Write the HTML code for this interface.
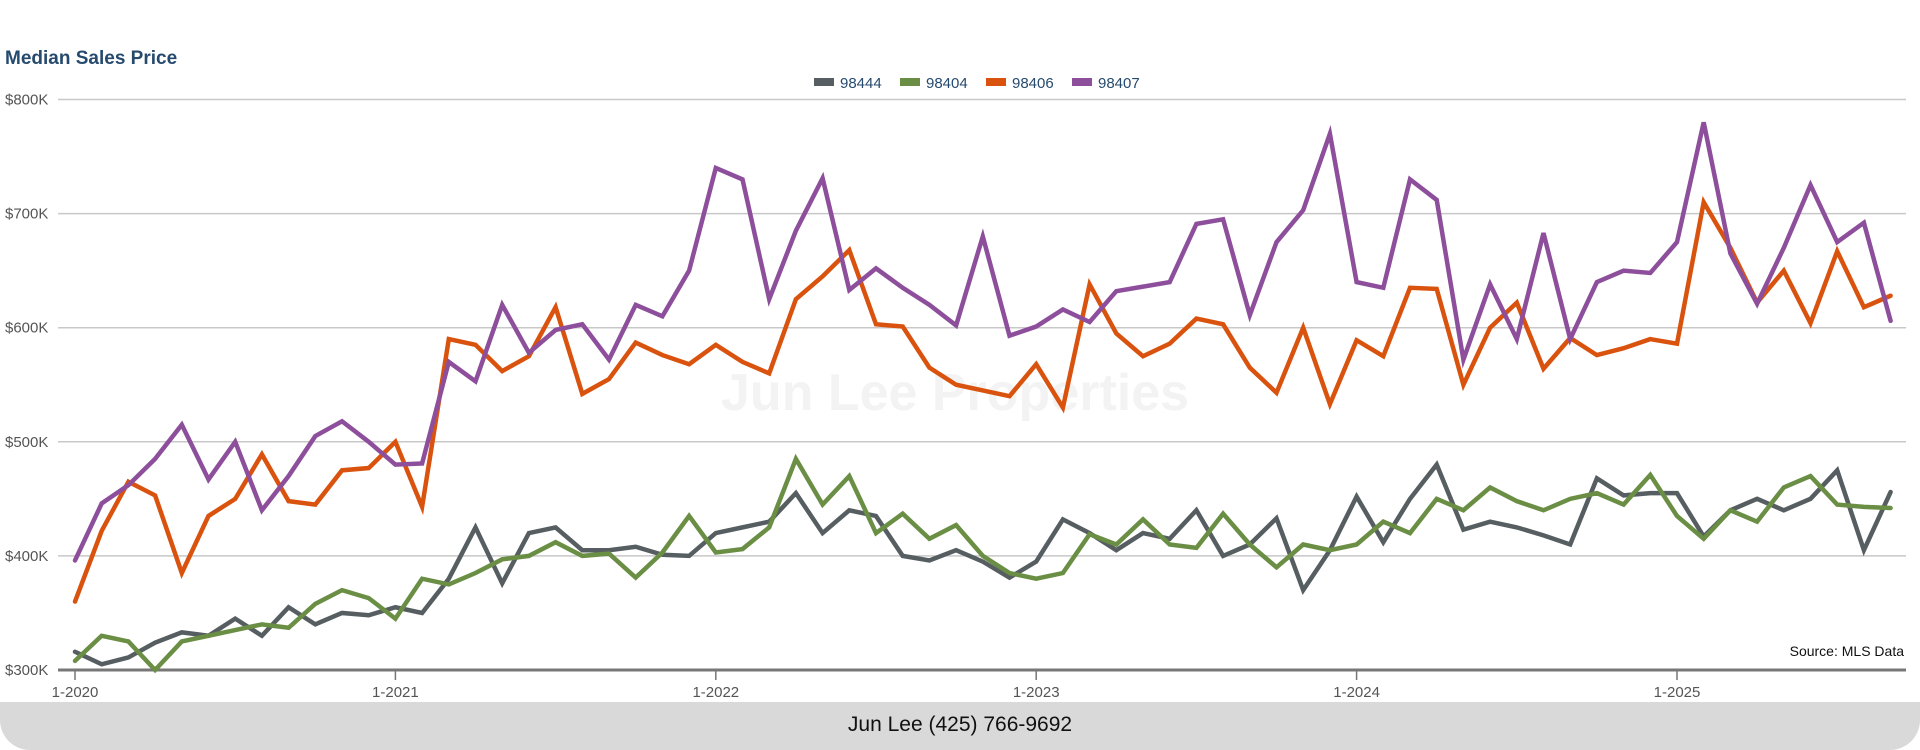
<!DOCTYPE html>
<html><head><meta charset="utf-8"><style>
html,body{margin:0;padding:0;background:#fff;width:1920px;height:750px;overflow:hidden;font-family:"Liberation Sans",sans-serif}
#footer{position:absolute;left:0;top:702px;width:1920px;height:48px;background:#d9d9d9;border-radius:0 0 30px 30px;text-align:center;line-height:46px;font-size:21px;color:#111}
</style></head><body>
<svg id="chart" width="1920" height="750" style="position:absolute;left:0;top:0">
<text x="5" y="64" font-size="19" font-weight="bold" fill="#264a6e">Median Sales Price</text>
<text x="955" y="410" font-size="52" font-weight="bold" fill="#f3f3f3" text-anchor="middle">Jun Lee Properties</text>
<g id="grid"></g><g id="xaxis"></g><g id="lines"></g><g id="legend"></g>
<text x="1904" y="656" font-size="14" fill="#111" text-anchor="end">Source: MLS Data</text>
</svg>
<div id="footer">Jun Lee (425) 766-9692</div>
<script>
const yTicks=[300,400,500,600,700,800];
const xTickLabels=["1-2020","1-2021","1-2022","1-2023","1-2024","1-2025"];
const seriesNames=["98444","98404","98406","98407"];
const s98444=[316,305,311,324,333,330,345,330,355,340,350,348,355,350,380,425,376,420,425,405,405,408,401,400,420,425,430,455,420,440,435,400,396,405,395,381,395,432,420,405,420,415,440,400,410,433,370,405,452,412,450,480,423,430,425,418,410,468,453,455,455,417,440,450,440,450,475,405,456];
const s98404=[308,330,325,300,325,330,335,340,337,358,370,363,345,380,375,385,397,400,412,400,402,381,403,435,403,406,425,485,445,470,420,437,415,427,400,385,380,385,419,410,432,410,407,437,410,390,410,405,410,430,420,450,440,460,448,440,450,455,445,471,435,415,440,430,460,470,445,443,442];
const s98406=[360,422,465,453,385,435,450,489,448,445,475,477,500,443,590,585,562,575,618,542,555,587,576,568,585,570,560,625,645,668,603,601,565,550,545,540,568,530,638,595,575,586,608,603,565,543,600,533,589,575,635,634,550,600,622,564,591,576,582,590,586,710,670,622,650,604,667,618,628];
const s98407=[396,446,462,485,515,467,500,440,470,505,518,500,480,481,570,553,620,578,598,603,572,620,610,650,740,730,625,685,731,633,652,635,620,602,680,593,601,616,605,632,636,640,691,695,611,675,703,770,640,635,730,712,572,638,590,683,590,640,650,648,675,780,665,621,670,725,675,692,606];
const colors=["#565e61","#6b8e45","#d9530f","#8d4f9b"];
const NS="http://www.w3.org/2000/svg";
const x0=75,monthW=320.4/12,yBase=670,per100=114.1;
function xs(i){return x0+i*monthW;}
function ys(v){return yBase-(v-300)/100*per100;}
function mk(tag,attrs,parent){const e=document.createElementNS(NS,tag);for(const k in attrs)e.setAttribute(k,attrs[k]);parent.appendChild(e);return e;}
const grid=document.getElementById('grid');
yTicks.forEach((t,i)=>{
  const l=mk('line',{x1:58,x2:1906,y1:ys(t),y2:ys(t),stroke:i===0?'#777':'#c8c8c8','stroke-width':i===0?3:1.5},grid);
  
  
  const tx=mk('text',{x:5,y:ys(t)+5,'font-size':15,fill:'#555'},grid);
  tx.textContent='$'+t+'K';
  
  
});
const xa=document.getElementById('xaxis');
xTickLabels.forEach((lab,i)=>{
  const x=xs(i*12);
  const tk=mk('line',{x1:x,x2:x,y1:671,y2:680,stroke:'#777','stroke-width':1.5},xa);
  
  
  const tx=mk('text',{x:x,y:697,'font-size':15,fill:'#555','text-anchor':'middle'},xa);
  tx.textContent=lab;
  
  
});
const lines=document.getElementById('lines');
[s98444,s98404,s98406,s98407].forEach((s,k)=>{
  const p=mk('polyline',{points:s.map((v,i)=>xs(i)+','+ys(v)).join(' '),fill:'none',stroke:colors[k],'stroke-width':4.5,'stroke-linejoin':'miter','stroke-linecap':'round'},lines);
  
  
});
const lg=document.getElementById('legend');
const lx=[814,900,986,1072];
seriesNames.forEach((n,k)=>{
  const r=mk('rect',{x:lx[k],y:78,width:20,height:8,fill:colors[k]},lg);
  
  
  const t=mk('text',{x:lx[k]+26,y:88,'font-size':15,fill:'#264a6e'},lg);
  t.textContent=n;
  
  
});
</script>
</body></html>
